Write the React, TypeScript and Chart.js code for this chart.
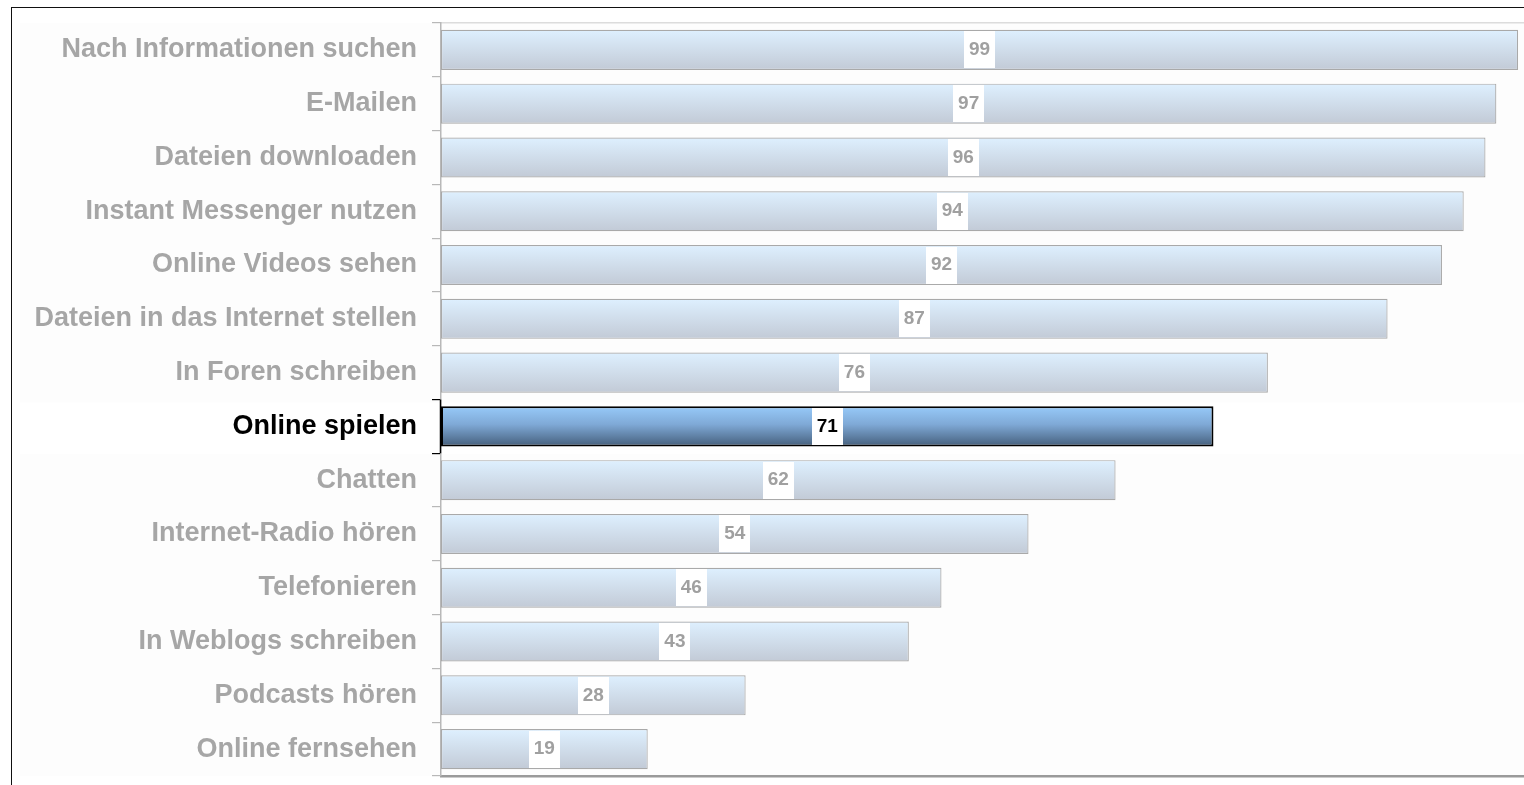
import React, { useEffect, useRef } from 'react';
import { Chart, registerables } from 'chart.js';

Chart.register(...registerables);

const categories: string[] = [
  'Nach Informationen suchen',
  'E-Mailen',
  'Dateien downloaden',
  'Instant Messenger nutzen',
  'Online Videos sehen',
  'Dateien in das Internet stellen',
  'In Foren schreiben',
  'Online spielen',
  'Chatten',
  'Internet-Radio hören',
  'Telefonieren',
  'In Weblogs schreiben',
  'Podcasts hören',
  'Online fernsehen',
];

const values: number[] = [99, 97, 96, 94, 92, 87, 76, 71, 62, 54, 46, 43, 28, 19];

const highlightCategory = 'Online spielen';

const BAR_PCT = 0.745;
const FONT = '"Liberation Sans", Arial, sans-serif';

export default function App() {
  const canvasRef = useRef<HTMLCanvasElement | null>(null);

  useEffect(() => {
    const canvas = canvasRef.current;
    if (!canvas) return;
    const hi = categories.indexOf(highlightCategory);

    const barGradient = (ctx: any) => {
      const chart = ctx.chart;
      const y = chart.scales && chart.scales.y;
      if (!y || ctx.type !== 'data' || !chart.chartArea) return '#d4e2f2';
      const band = (y.bottom - y.top) / categories.length;
      const c = y.getPixelForValue(ctx.dataIndex);
      const half = (band * BAR_PCT) / 2;
      const g = chart.ctx.createLinearGradient(0, c - half, 0, c + half);
      if (ctx.dataIndex === hi) {
        g.addColorStop(0, '#97caf9');
        g.addColorStop(0.45, '#7fa9d6');
        g.addColorStop(1, '#455f7c');
      } else {
        g.addColorStop(0, '#def0ff');
        g.addColorStop(1, '#c2cad6');
      }
      return g;
    };

    const backgroundPlugin = {
      id: 'bgPlugin',
      beforeDraw(chart: any) {
        const { ctx, width, height } = chart;
        const y = chart.scales.y;
        ctx.save();
        ctx.fillStyle = '#ffffff';
        ctx.fillRect(0, 0, width, height);
        ctx.fillStyle = '#fdfdfd';
        ctx.fillRect(20, y.top, width, y.bottom - y.top);
        const band = (y.bottom - y.top) / categories.length;
        const c = y.getPixelForValue(hi);
        ctx.fillStyle = '#ffffff';
        ctx.fillRect(20, c - band / 2 + 3, width, band - 2);
        ctx.restore();
      },
    };

    const labelPlugin = {
      id: 'valueLabels',
      afterDatasetsDraw(chart: any) {
        const { ctx } = chart;
        const meta = chart.getDatasetMeta(0);
        ctx.save();
        ctx.font = `bold 19px ${FONT}`;
        ctx.textAlign = 'center';
        ctx.textBaseline = 'middle';
        meta.data.forEach((bar: any, i: number) => {
          const cx = (bar.x + bar.base) / 2;
          const cy = bar.y;
          ctx.fillStyle = '#ffffff';
          ctx.fillRect(Math.round(cx - 15.5), Math.round(cy - 18.5), 31, 37);
          ctx.fillStyle = i === hi ? '#000000' : '#a0a0a0';
          ctx.fillText(String(values[i]), cx, cy);
        });
        // black axis segment for highlighted row
        const y = chart.scales.y;
        const band = (y.bottom - y.top) / categories.length;
        const c = y.getPixelForValue(hi);
        ctx.strokeStyle = '#000000';
        ctx.lineWidth = 1.5;
        ctx.beginPath();
        ctx.moveTo(y.right - 0.5, c - band / 2);
        ctx.lineTo(y.right - 0.5, c + band / 2);
        ctx.stroke();
        ctx.restore();
      },
    };

    const zeroHeight = (scale: any) => {
      scale.height = 0;
      scale.paddingLeft = 0;
      scale.paddingRight = 0;
    };

    const chart = new Chart(canvas, {
      type: 'bar',
      data: {
        labels: categories,
        datasets: [
          {
            data: values,
            backgroundColor: barGradient,
            borderColor: (ctx: any) => (ctx.dataIndex === hi ? '#000000' : '#a9a9a9'),
            borderWidth: (ctx: any) => (ctx.dataIndex === hi ? 2 : 1.2),
            borderSkipped: false,
            categoryPercentage: 1,
            barPercentage: BAR_PCT,
          },
        ],
      },
      options: {
        indexAxis: 'y',
        animation: false,
        responsive: false,
        maintainAspectRatio: false,
        layout: { padding: { top: 23, bottom: 9, left: 0, right: 1 } },
        plugins: {
          legend: { display: false },
          tooltip: { enabled: false },
        },
        scales: {
          x: {
            type: 'linear',
            position: 'bottom',
            min: 0,
            max: 100,
            afterFit: zeroHeight,
            ticks: { display: false },
            grid: { display: false, drawTicks: false },
            border: { display: true, color: '#9a9a9a', width: 2.5 },
          },
          x2: {
            type: 'linear',
            position: 'top',
            min: 0,
            max: 100,
            afterFit: zeroHeight,
            ticks: { display: false },
            grid: { display: false, drawTicks: false },
            border: { display: true, color: '#dcdcdc', width: 1.5 },
          },
          y: {
            type: 'category',
            position: 'left',
            afterFit: (scale: any) => {
              scale.width = 441;
              scale.paddingTop = 0;
              scale.paddingBottom = 0;
            },
            ticks: {
              padding: 15,
              font: { family: FONT, size: 27, weight: 'bold' },
              color: (ctx: any) => (ctx.index === hi ? '#000000' : '#a6a6a6'),
            },
            grid: {
              display: true,
              drawOnChartArea: false,
              drawTicks: true,
              tickLength: 9,
              offset: true,
              lineWidth: 1.2,
              color: (ctx: any) =>
                ctx.index === hi || ctx.index === hi + 1 ? '#000000' : '#b8b8b8',
            },
            border: { display: true, color: '#b8b8b8', width: 1.5 },
          },
        },
      },
      plugins: [backgroundPlugin, labelPlugin],
    } as any);

    return () => chart.destroy();
  }, []);

  return (
    <div
      style={{
        position: 'fixed',
        left: 0,
        top: 0,
        width: 1524,
        height: 785,
        overflow: 'hidden',
        background: '#ffffff',
      }}
    >
      <canvas
        ref={canvasRef}
        width={1530}
        height={785}
        style={{ position: 'absolute', left: 0, top: 0, width: 1530, height: 785 }}
      />
      <div
        style={{
          position: 'absolute',
          left: 11,
          top: 7,
          width: 1600,
          height: 900,
          borderLeft: '1.5px solid #111',
          borderTop: '1.5px solid #111',
          pointerEvents: 'none',
        }}
      />
    </div>
  );
}
